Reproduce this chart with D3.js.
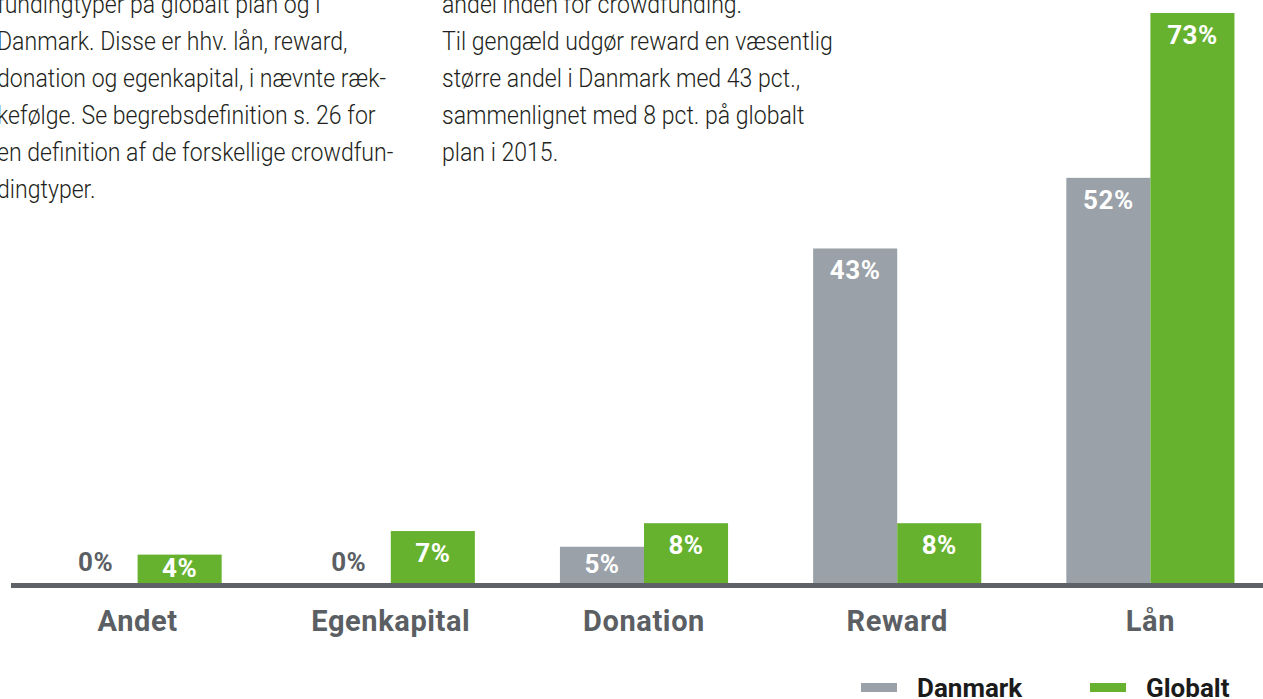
<!DOCTYPE html>
<html>
<head>
<meta charset="utf-8">
<script src="https://cdn.jsdelivr.net/npm/d3@7"></script>
<style>
  html, body { margin: 0; padding: 0; background: #fff; overflow: hidden; }
  svg { display: block; }
</style>
</head>
<body>
<svg id="chart" width="1263" height="699"></svg>
<script>
// Chart data
const categories = ["Andet", "Egenkapital", "Donation", "Reward", "Lån"];
const seriesNames = ["Danmark", "Globalt"];
const danmark = [0, 0, 5, 43, 52];
const globalt = [4, 7, 8, 8, 73];

// Body text around the chart (cut off by the frame, as in the original)
const leftText = [
  "fundingtyper på globalt plan og i",
  "Danmark. Disse er hhv. lån, reward,",
  "donation og egenkapital, i nævnte ræk-",
  "kefølge. Se begrebsdefinition s. 26 for",
  "en definition af de forskellige crowdfun-",
  "dingtyper."
];
const rightText = [
  "andel inden for crowdfunding.",
  "Til gengæld udgør reward en væsentlig",
  "større andel i Danmark med 43 pct.,",
  "sammenlignet med 8 pct. på globalt",
  "plan i 2015."
];

const colors = { Danmark: "#9aa1a8", Globalt: "#66b22f" };
const darkGrey = "#5b5f64";

const svg = d3.select("#chart");
const width = +svg.attr("width");

// Paragraphs, set in a light face and squeezed to the narrow column width
function paragraph(lines, x) {
  const g = svg.append("g");
  g.selectAll("text")
    .data(lines)
    .enter()
    .append("text")
    .attr("x", 0)
    .attr("y", (d, i) => 13 + i * 37)
    .attr("font-family", "Roboto, 'Liberation Sans', sans-serif")
    .attr("font-weight", 300)
    .attr("font-size", 25)
    .attr("fill", "#231f20")
    .text(d => d);
  return { g, x };
}
const paraLeft = paragraph(leftText, -3);
const paraRight = paragraph(rightText, 442);

// the right column's second line runs to about x = 833 in the layout
const probe = paraRight.g.selectAll("text").nodes()[1];
const squeeze = 391 / probe.getComputedTextLength();
[paraLeft, paraRight].forEach(p => {
  p.g.attr("transform", `translate(${p.x},0) scale(${squeeze},1)`);
});

// Scales
const x = d3.scaleBand()
  .domain(categories)
  .range([11, 1277])
  .paddingInner(0.336)
  .paddingOuter(0.168);

const xs = d3.scaleBand()
  .domain(seriesNames)
  .range([0, x.bandwidth()]);

const y = d3.scaleLinear()
  .domain([0, d3.max(globalt)])
  .range([586, 13]);

const axisTop = 583;

const rows = categories.map((c, i) => ({
  category: c,
  values: [
    { series: "Danmark", value: danmark[i] },
    { series: "Globalt", value: globalt[i] }
  ]
}));

const groups = svg.append("g")
  .selectAll("g")
  .data(rows)
  .enter()
  .append("g")
  .attr("transform", d => `translate(${x(d.category)},0)`);

// Bars
groups.selectAll("rect")
  .data(d => d.values)
  .enter()
  .append("rect")
  .attr("x", d => xs(d.series))
  .attr("y", d => y(d.value))
  .attr("width", xs.bandwidth())
  .attr("height", d => y(0) - y(d.value))
  .attr("fill", d => colors[d.series]);

// Value labels
groups.selectAll("text.value")
  .data(d => d.values)
  .enter()
  .append("text")
  .attr("class", "value")
  .attr("x", d => xs(d.series) + xs.bandwidth() / 2)
  .attr("y", d => {
    if (d.value === 0) return 571;
    const top = y(d.value);
    return Math.min(top + 31, (top + axisTop) / 2 + 8.5);
  })
  .attr("text-anchor", "middle")
  .attr("font-family", "Roboto, sans-serif")
  .attr("font-weight", 700)
  .attr("font-size", 26)
  .attr("letter-spacing", 0.5)
  .attr("fill", d => (d.value === 0 ? darkGrey : "#fff"))
  .text(d => d.value + "%");

// Baseline
svg.append("rect")
  .attr("x", 11)
  .attr("y", axisTop)
  .attr("width", width - 11)
  .attr("height", 5)
  .attr("fill", "#5e6267");

// Category labels
const xAxis = d3.axisBottom(x).tickSize(0).tickPadding(0);
const axisG = svg.append("g")
  .attr("transform", `translate(0,${axisTop})`)
  .call(xAxis);
axisG.select(".domain").remove();
axisG.selectAll("text")
  .attr("dy", null)
  .attr("y", 48)
  .attr("font-family", "Roboto, sans-serif")
  .attr("font-weight", 700)
  .attr("font-size", 29)
  .attr("letter-spacing", 0.6)
  .attr("fill", darkGrey);

// Legend
const legendX = { Danmark: 861, Globalt: 1090 };
const legend = svg.append("g")
  .selectAll("g")
  .data(seriesNames)
  .enter()
  .append("g")
  .attr("transform", d => `translate(${legendX[d]},0)`);

legend.append("rect")
  .attr("x", 0)
  .attr("y", 683)
  .attr("width", 36)
  .attr("height", 9)
  .attr("fill", d => colors[d]);

legend.append("text")
  .attr("x", 56)
  .attr("y", 697)
  .attr("font-family", "Roboto, sans-serif")
  .attr("font-weight", 700)
  .attr("font-size", 26)
  .attr("fill", "#1b1b1b")
  .text(d => d);
</script>
</body>
</html>
